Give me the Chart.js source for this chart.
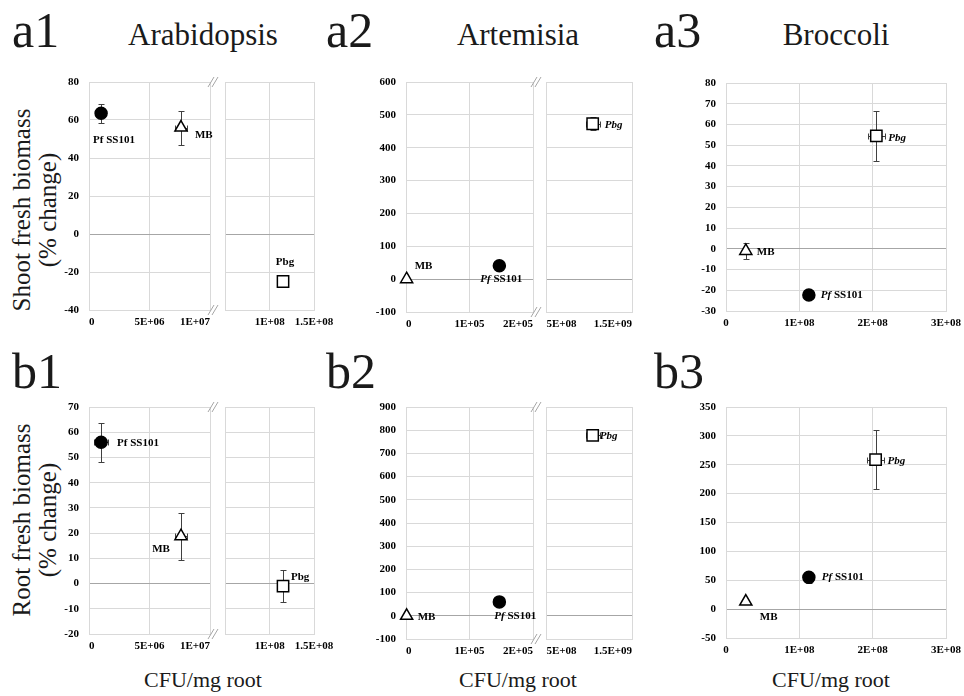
<!DOCTYPE html>
<html>
<head>
<meta charset="utf-8">
<script src="https://cdn.jsdelivr.net/npm/chart.js@4.4.1/dist/chart.umd.min.js"></script>
<style>
  body { margin: 0; background: #fff; }
  #page { position: relative; width: 964px; height: 696px; overflow: hidden; font-family: 'Liberation Serif', serif; color: #1a1a1a; }
  .seg { position: absolute; }
  .tag { position: absolute; font-size: 50px; line-height: 50px; }
  .title { position: absolute; width: 240px; font-size: 31px; line-height: 31px; text-align: center; }
  .ytitle { position: absolute; width: 280px; font-size: 25px; line-height: 26px; text-align: center; transform: rotate(-90deg); }
  .xtitle { position: absolute; width: 200px; font-size: 22px; line-height: 22px; text-align: center; }
</style>
</head>
<body>
<div id="page">
  <div class="tag" style="left:12px;top:5px">a1</div>
  <div class="tag" style="left:326px;top:5px">a2</div>
  <div class="tag" style="left:654px;top:5px">a3</div>
  <div class="tag" style="left:12px;top:346px">b1</div>
  <div class="tag" style="left:326px;top:346px">b2</div>
  <div class="tag" style="left:654px;top:346px">b3</div>
  <div class="title" style="left:83px;top:19px">Arabidopsis</div>
  <div class="title" style="left:398px;top:19px">Artemisia</div>
  <div class="title" style="left:716px;top:19px">Broccoli</div>
  <div class="ytitle" style="left:-105px;top:184px">Shoot fresh biomass<br>(% change)</div>
  <div class="ytitle" style="left:-105px;top:494px">Root fresh biomass<br>(% change)</div>
  <div class="xtitle" style="left:103px;top:669px">CFU/mg root</div>
  <div class="xtitle" style="left:418px;top:669px">CFU/mg root</div>
  <div class="xtitle" style="left:731px;top:669px">CFU/mg root</div>
</div>
<script>
// series order in every panel
const strains = ['Pf SS101', 'MB', 'Pbg'];

// a1 Arabidopsis shoot
const a1X = [1.0e6, 7.6e6, 1.15e8];
const a1Y = [63.5, 56, -25];
const a1XErr = [0, 4.7e5, 5e6];
const a1YErr = [5, 9, 2];

// a2 Artemisia shoot
const a2X = [1.47e5, 1e3, 1.04e9];
const a2Y = [41, 0, 473];
const a2XErr = [0, 0, 8e7];
const a2YErr = [5, 0, 20];

// a3 Broccoli shoot
const a3X = [1.13e8, 2.7e7, 2.05e8];
const a3Y = [-22.3, -1, 54.5];
const a3XErr = [0, 0, 1.2e7];
const a3YErr = [1.5, 3.7, 12];

// b1 Arabidopsis root
const b1X = [1.0e6, 7.6e6, 1.15e8];
const b1Y = [56, 18.8, -1];
const b1XErr = [6e5, 5e5, 3e6];
const b1YErr = [7.7, 9.3, 6.5];

// b2 Artemisia root
const b2X = [1.47e5, 1e3, 1.04e9];
const b2Y = [60, 0, 778];
const b2XErr = [0, 0, 8e7];
const b2YErr = [8, 0, 20];

// b3 Broccoli root
const b3X = [1.13e8, 2.7e7, 2.04e8];
const b3Y = [55, 13, 259];
const b3XErr = [0, 0, 1.2e7];
const b3YErr = [9, 0, 51];

// y ranges: min, max, step
const a1YRange = [-40, 80, 20];
const a2YRange = [-100, 600, 100];
const a3YRange = [-30, 80, 10];
const b1YRange = [-20, 70, 10];
const b2YRange = [-100, 900, 100];
const b3YRange = [-50, 350, 50];

// x ticks (broken axes split into two segments)
const col1LeftTicks = [0, 5e6, 1e7];
const col1LeftLabels = ['0', '5E+06', '1E+07'];
const col1RightTicks = [5e7, 1e8, 1.5e8];
const col1RightLabels = ['', '1E+08', '1.5E+08'];
const col2LeftTicks = [0, 1e5, 2e5];
const col2LeftLabels = ['0', '1E+05', '2E+05'];
const col2RightTicks = [5e8, 1.5e9];
const col2RightLabels = ['5E+08', '1.5E+09'];
const col3Ticks = [0, 1e8, 2e8, 3e8];
const col3Labels = ['0', '1E+08', '2E+08', '3E+08'];

Chart.defaults.font.family = "'Liberation Serif', serif";
Chart.defaults.color = '#000';

const shapes = ['circle', 'triangle', 'rect'];
const radii = [6, 7, 8];
const fills = ['#000', '#fff', '#fff'];

const col1 = [
    { left: 89, right: 210, ticks: col1LeftTicks, labels: col1LeftLabels, align: 'inner', yAxis: true, brk: true },
    { left: 216, right: 314, ticks: col1RightTicks, labels: col1RightLabels, align: 'center', yAxis: false }
];
const col2 = [
    { left: 406, right: 533, ticks: col2LeftTicks, labels: col2LeftLabels, align: 'inner', yAxis: true, brk: true },
    { left: 537, right: 632, ticks: col2RightTicks, labels: col2RightLabels, align: 'inner', yAxis: false }
];
const col3 = [
    { left: 726, right: 946, ticks: col3Ticks, labels: col3Labels, align: 'center', yAxis: true }
];

// label offsets from the marker: dx, dy, align
const panels = [
    { x: a1X, y: a1Y, xe: a1XErr, ye: a1YErr, yr: a1YRange, top: 82, bottom: 310, segs: col1, italic: false,
      offs: [[-8, 27, 'left'], [14, 8, 'left'], [2, -19, 'center']] },
    { x: a2X, y: a2Y, xe: a2XErr, ye: a2YErr, yr: a2YRange, top: 82, bottom: 312, segs: col2, italic: true,
      offs: [[-19, 13, 'left'], [8, -13, 'left'], [12, 1, 'left']] },
    { x: a3X, y: a3Y, xe: a3XErr, ye: a3YErr, yr: a3YRange, top: 83, bottom: 311, segs: col3, italic: true,
      offs: [[12, 0, 'left'], [11, 1, 'left'], [12, 2, 'left']] },
    { x: b1X, y: b1Y, xe: b1XErr, ye: b1YErr, yr: b1YRange, top: 407, bottom: 634, segs: col1, italic: false,
      offs: [[16, 1, 'left'], [-11, 13, 'right'], [8, -9, 'left']] },
    { x: b2X, y: b2Y, xe: b2XErr, ye: b2YErr, yr: b2YRange, top: 407, bottom: 639, segs: col2, italic: true,
      offs: [[-5, 14, 'left'], [11, 1, 'left'], [7, 1, 'left']] },
    { x: b3X, y: b3Y, xe: b3XErr, ye: b3YErr, yr: b3YRange, top: 407, bottom: 638, segs: col3, italic: true,
      offs: [[13, 0, 'left'], [14, 16, 'left'], [12, 2, 'left']] }
];

const BOLD = "bold 11px 'Liberation Serif'";
const ITAL = "italic bold 11px 'Liberation Serif'";

function labelParts(name, italic) {
    if (!italic || name === 'MB') return [[name, BOLD]];
    const sp = name.indexOf(' ');
    if (sp < 0) return [[name, ITAL]];
    return [[name.slice(0, sp), ITAL], [name.slice(sp), BOLD]];
}

const marks = (p, s) => ({
    id: 'marks',
    beforeDatasetsDraw(chart) {
        const ctx = chart.ctx, xs = chart.scales.x, ys = chart.scales.y;
        ctx.save();
        ctx.strokeStyle = '#404040';
        ctx.lineWidth = 1;
        const seg = (x1, y1, x2, y2) => { ctx.beginPath(); ctx.moveTo(x1, y1); ctx.lineTo(x2, y2); ctx.stroke(); };
        p.x.forEach((xv, i) => {
            if (xv < xs.min || xv > xs.max) return;
            const px = Math.round(xs.getPixelForValue(xv)) + 0.5;
            const py = Math.round(ys.getPixelForValue(p.y[i])) + 0.5;
            if (p.ye[i]) {
                const y1 = Math.round(ys.getPixelForValue(p.y[i] + p.ye[i])) + 0.5;
                const y2 = Math.round(ys.getPixelForValue(p.y[i] - p.ye[i])) + 0.5;
                seg(px, y1, px, y2);
                seg(px - 3, y1, px + 3, y1);
                seg(px - 3, y2, px + 3, y2);
            }
            if (p.xe[i]) {
                const x1 = Math.round(xs.getPixelForValue(xv - p.xe[i])) + 0.5;
                const x2 = Math.round(xs.getPixelForValue(xv + p.xe[i])) + 0.5;
                seg(x1, py, x2, py);
                seg(x1, py - 3, x1, py + 3);
                seg(x2, py - 3, x2, py + 3);
            }
        });
        ctx.restore();
    },
    afterDatasetsDraw(chart) {
        const ctx = chart.ctx, xs = chart.scales.x, area = chart.chartArea;
        ctx.save();
        ctx.fillStyle = '#000';
        ctx.textBaseline = 'middle';
        chart.data.datasets.forEach((ds, i) => {
            if (p.x[i] < xs.min || p.x[i] > xs.max) return;
            const pt = chart.getDatasetMeta(i).data[0];
            const [dx, dy, align] = p.offs[i];
            const parts = labelParts(ds.label, p.italic);
            let total = 0;
            parts.forEach(([t, f]) => { ctx.font = f; total += ctx.measureText(t).width; });
            let x = pt.x + dx;
            if (align === 'center') x -= total / 2;
            if (align === 'right') x -= total;
            ctx.textAlign = 'left';
            parts.forEach(([t, f]) => { ctx.font = f; ctx.fillText(t, x, pt.y + dy); x += ctx.measureText(t).width; });
        });
        // axis break marks
        if (s.brk) {
            ctx.strokeStyle = '#a6a6a6';
            ctx.lineWidth = 1;
            const bx = area.right + 3;
            [area.top, area.bottom].forEach(by => {
                [-2, 2].forEach(o => {
                    ctx.beginPath();
                    ctx.moveTo(bx + o - 3, by + 5);
                    ctx.lineTo(bx + o + 3, by - 5);
                    ctx.stroke();
                });
            });
        }
        ctx.restore();
    }
});

function buildSegment(p, s) {
    const YW = s.yAxis ? 50 : 0, T = 12, R = 34, XH = 26;
    const w = YW + (s.right - s.left) + R;
    const h = T + (p.bottom - p.top) + XH;
    const box = document.createElement('div');
    box.className = 'seg';
    box.style.left = (s.left - YW) + 'px';
    box.style.top = (p.top - T) + 'px';
    const cv = document.createElement('canvas');
    cv.width = w; cv.height = h;
    cv.style.width = w + 'px'; cv.style.height = h + 'px';
    box.appendChild(cv);
    document.getElementById('page').appendChild(box);

    new Chart(cv, {
        type: 'scatter',
        data: {
            datasets: strains.map((name, i) => ({
                label: name,
                data: [{ x: p.x[i], y: p.y[i] }],
                pointStyle: shapes[i],
                pointRadius: radii[i],
                backgroundColor: fills[i],
                borderColor: '#000',
                borderWidth: 1.5,
                clip: 10
            }))
        },
        options: {
            responsive: false,
            animation: false,
            devicePixelRatio: 1,
            events: [],
            layout: { padding: { left: 0, top: T, right: R, bottom: 0 } },
            plugins: { legend: { display: false }, tooltip: { enabled: false } },
            scales: {
                x: {
                    type: 'linear',
                    min: s.ticks[0],
                    max: s.ticks[s.ticks.length - 1],
                    afterBuildTicks: sc => { sc.ticks = s.ticks.map(v => ({ value: v })); },
                    afterFit: sc => { sc.height = XH; sc.paddingLeft = 0; sc.paddingRight = 0; },
                    grid: { color: '#d9d9d9', drawTicks: false },
                    border: { color: '#d9d9d9' },
                    ticks: {
                        autoSkip: false, maxRotation: 0, padding: 6, align: s.align,
                        font: { weight: 'bold', size: 11 },
                        callback: v => s.labels[s.ticks.indexOf(v)]
                    }
                },
                y: {
                    min: p.yr[0],
                    max: p.yr[1],
                    afterFit: sc => { sc.width = YW; sc.paddingTop = 0; sc.paddingBottom = 0; },
                    grid: { color: c => (c.tick && c.tick.value === 0 ? '#a6a6a6' : '#d9d9d9'), drawTicks: false },
                    border: { color: '#d9d9d9' },
                    ticks: { display: s.yAxis, stepSize: p.yr[2], padding: 10, font: { weight: 'bold', size: 11 } }
                }
            }
        },
        plugins: [marks(p, s)]
    });
}

panels.forEach(p => p.segs.forEach(s => buildSegment(p, s)));
</script>
</body>
</html>
